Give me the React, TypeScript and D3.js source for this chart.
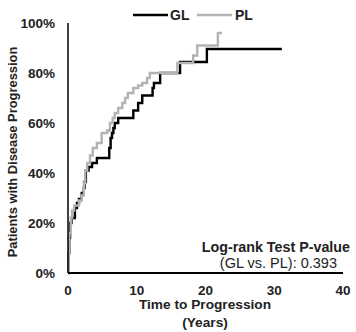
import React from "react";
import * as d3 from "d3";

const glTimes = [0, 0.1, 0.2, 0.3, 0.5, 1.0, 1.3, 1.6, 2.0, 2.3, 2.4, 2.6, 3.0, 3.5, 4.2, 6.0, 6.2, 6.4, 6.6, 6.8, 7.3, 9.5, 10.2, 10.8, 12.3, 12.5, 13.4, 16.3, 20.2, 31.1];
const glValues = [0, 8, 14, 20, 22, 26, 28, 29.6, 32, 34, 36.4, 41, 42.4, 44, 46, 50, 54, 56, 58, 60, 62, 65, 68, 71, 74, 76, 80, 84.4, 89.6, 89.6];
const plTimes = [0, 0.1, 0.2, 0.4, 0.6, 0.9, 1.6, 2.0, 2.3, 2.5, 2.8, 3.2, 3.6, 4.2, 4.9, 5.7, 6.1, 6.5, 6.8, 7.3, 7.9, 8.3, 8.7, 9.5, 10.2, 10.8, 11.5, 11.9, 15.9, 18.2, 18.8, 21.8, 22.4];
const plValues = [0, 8, 16, 22, 25, 27, 29, 31, 36, 41, 44, 47, 50, 52, 56, 57, 60, 62, 64, 66, 68, 70, 72, 74, 75, 76, 78, 80, 84, 87, 91, 96, 96];
const xTicks = [0, 10, 20, 30, 40];
const yTicks = [0, 20, 40, 60, 80, 100];

const FONT = "'Liberation Sans', Arial, sans-serif";

export default function App() {
  const W = 356, H = 332;
  const x = d3.scaleLinear().domain([0, 40]).range([68, 343]);
  const y = d3.scaleLinear().domain([0, 100]).range([273, 23]);
  const line = d3.line<[number, number]>()
    .x(d => x(d[0]))
    .y(d => y(d[1]))
    .curve(d3.curveStepAfter);
  const gl = glTimes.map((t, i) => [t, glValues[i]] as [number, number]);
  const pl = plTimes.map((t, i) => [t, plValues[i]] as [number, number]);
  return (
    <svg width={W} height={H} style={{ position: "absolute", left: 0, top: 0, background: "#fff" }} fontFamily={FONT}>
      <rect width={W} height={H} fill="#fff" />
      <path d={line(gl) || ""} fill="none" stroke="#000" strokeWidth={2.4} />
      <path d={line(pl) || ""} fill="none" stroke="#b3b3b3" strokeWidth={2.4} />
      <line x1={x(0)} x2={x(0)} y1={y(100)} y2={y(0)} stroke="#000" strokeWidth={1.5} />
      <line x1={x(0)} x2={x(40)} y1={y(0)} y2={y(0)} stroke="#000" strokeWidth={2.2} />
      {yTicks.map(v => (
        <text key={v} x={55} y={y(v) + 5} textAnchor="end" fontSize={13.5} fontWeight="bold" fill="#222">{v}%</text>
      ))}
      {xTicks.map(v => (
        <text key={v} x={x(v)} y={295} textAnchor="middle" fontSize={13.5} fontWeight="bold" fill="#222">{v}</text>
      ))}
      <text transform={`translate(17,${152}) rotate(-90)`} textAnchor="middle" fontSize={12.9} fontWeight="bold" fill="#222">Patients with Disease Progression</text>
      <text x={205} y={309} textAnchor="middle" fontSize={13.7} fontWeight="bold" fill="#222">Time to Progression</text>
      <text x={205} y={327} textAnchor="middle" fontSize={13.7} fontWeight="bold" fill="#222">(Years)</text>
      <text x={350} y={252} textAnchor="end" fontSize={14.3} fontWeight="bold" fill="#222">Log-rank Test P-value</text>
      <text x={337} y={268} textAnchor="end" fontSize={14.5} fill="#222">(GL vs. PL): 0.393</text>
      <line x1={133} x2={168} y1={15} y2={15} stroke="#000" strokeWidth={2.4} />
      <text x={170} y={20} fontSize={14} fontWeight="bold" fill="#222">GL</text>
      <line x1={197} x2={232} y1={15} y2={15} stroke="#b3b3b3" strokeWidth={2.4} />
      <text x={235} y={20} fontSize={14} fontWeight="bold" fill="#222">PL</text>
    </svg>
  );
}
